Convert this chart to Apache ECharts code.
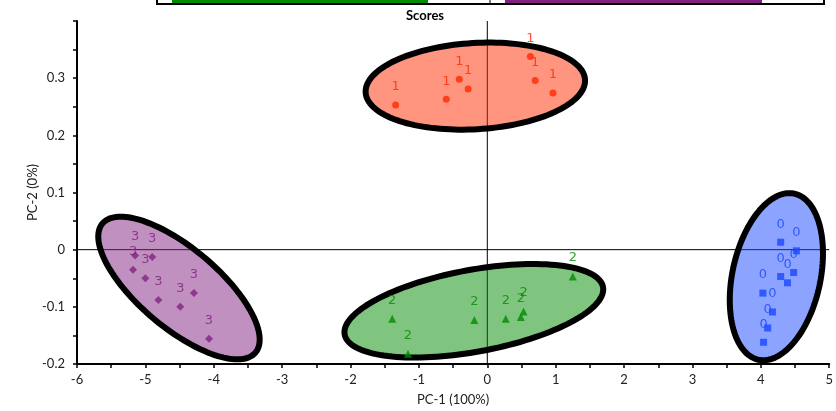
<!DOCTYPE html>
<html>
<head>
<meta charset="utf-8">
<script src="https://cdn.jsdelivr.net/npm/echarts@6/dist/echarts.min.js"></script>
<style>
  html, body { margin: 0; padding: 0; background: #fff; }
  #chart { width: 836px; height: 411px; }
</style>
</head>
<body>
<div id="chart"></div>
<script>
// scores per group (PC-1, PC-2)
var group0X = [4.29, 4.52, 4.48, 4.29, 4.39, 4.03, 4.17, 4.10, 4.04];
var group0Y = [0.013, -0.002, -0.040, -0.047, -0.058, -0.076, -0.109, -0.137, -0.162];
var group1X = [-1.34, -0.60, -0.41, -0.28, 0.63, 0.70, 0.96];
var group1Y = [0.253, 0.263, 0.298, 0.281, 0.338, 0.296, 0.274];
var group2X = [-1.39, -1.16, -0.19, 0.27, 0.49, 0.53, 1.25];
var group2Y = [-0.121, -0.182, -0.123, -0.121, -0.118, -0.108, -0.047];
var group3X = [-5.15, -4.90, -5.18, -5.00, -4.81, -4.49, -4.29, -4.07];
var group3Y = [-0.010, -0.013, -0.035, -0.050, -0.088, -0.100, -0.076, -0.156];

var groupNames = ['0', '1', '2', '3'];
var groupColors = ['#1A47FF', '#FF2A00', '#008C00', '#822382'];
var groupSymbols = ['rect', 'circle', 'triangle', 'diamond'];
var groupSizes = [7, 7, 8, 8];

// group ellipses: centre and two semi-axis vectors, in data units
var ellipseCX = [4.227, -0.175, -0.197, -4.509];
var ellipseCY = [-0.0473, 0.2861, -0.1069, -0.0671];
var ellipseUX = [0.260, 1.604, 1.889, 1.118];
var ellipseUY = [0.1453, 0.0113, 0.0416, -0.1130];
var ellipseVX = [0.630, 0.0376, 0.1097, -0.378];
var ellipseVY = [-0.0159, -0.0753, -0.0704, -0.0529];

var xMin = -6, xMax = 5, xStep = 1;
var yMin = -0.2, yMax = 0.4, yStep = 0.1;

var groupsX = [group0X, group1X, group2X, group3X];
var groupsY = [group0Y, group1Y, group2Y, group3Y];

var myChart = echarts.init(document.getElementById('chart'));

function renderEllipse(params, api) {
    var i = params.dataIndex;
    var pts = [];
    for (var k = 0; k < 144; k++) {
        var t = k / 144 * Math.PI * 2;
        var c = Math.cos(t), s = Math.sin(t);
        pts.push(api.coord([
            ellipseCX[i] + c * ellipseUX[i] + s * ellipseVX[i],
            ellipseCY[i] + c * ellipseUY[i] + s * ellipseVY[i]
        ]));
    }
    return {
        type: 'polygon',
        shape: { points: pts },
        style: {
            fill: echarts.color.modifyAlpha(groupColors[i], 0.5),
            stroke: '#000',
            lineWidth: 6
        }
    };
}

function renderZeroLines(params, api) {
    var a = api.coord([xMin, 0]), b = api.coord([xMax, 0]);
    var c = api.coord([0, yMin]), d = api.coord([0, yMax]);
    return {
        type: 'group',
        children: [
            { type: 'line', shape: { x1: a[0], y1: a[1], x2: b[0], y2: b[1] }, style: { stroke: '#000', lineWidth: 1 } },
            { type: 'line', shape: { x1: c[0], y1: c[1], x2: d[0], y2: d[1] }, style: { stroke: '#000', lineWidth: 1 } }
        ]
    };
}

var series = [{
    type: 'custom',
    name: 'zero',
    z: 1,
    silent: true,
    renderItem: renderZeroLines,
    data: [[0, 0]]
}, {
    type: 'custom',
    name: 'ellipses',
    z: 2,
    silent: true,
    renderItem: renderEllipse,
    encode: { x: 0, y: 1 },
    data: ellipseCX.map(function (x, i) { return [x, ellipseCY[i]]; })
}];

for (var g = 0; g < groupNames.length; g++) {
    series.push({
        type: 'scatter',
        name: groupNames[g],
        z: 3,
        symbol: groupSymbols[g],
        symbolSize: groupSizes[g],
        itemStyle: { color: groupColors[g] },
        label: {
            show: true,
            position: 'top',
            distance: 8,
            formatter: '{a}',
            color: groupColors[g],
            fontFamily: 'DejaVu Sans',
            fontSize: 13
        },
        data: groupsX[g].map(function (x, i) { return [x, groupsY[g][i]]; })
    });
}

var axisFont = { fontFamily: 'Lato', fontSize: 13, color: '#222' };

var option = {
    animation: false,
    title: {
        text: 'Scores',
        left: 401,
        top: 4,
        textStyle: { fontFamily: 'Lato', fontSize: 13, fontWeight: 'bold', color: '#000' }
    },
    grid: { left: 77, right: 3, top: 21, bottom: 42 },
    xAxis: {
        type: 'value',
        min: xMin, max: xMax, interval: xStep,
        name: 'PC-1 (100%)',
        nameLocation: 'middle',
        nameGap: 29,
        nameMoveOverlap: false,
        nameTextStyle: axisFont,
        axisLine: { show: true, onZero: false, lineStyle: { color: '#000', width: 2 } },
        axisTick: { show: true, length: 4, lineStyle: { color: '#000', width: 1.5 } },
        minorTick: { show: true, splitNumber: 2, length: 4, lineStyle: { color: '#000', width: 1.5 } },
        axisLabel: Object.assign({ margin: 9 }, axisFont),
        splitLine: { show: false }
    },
    yAxis: {
        type: 'value',
        min: yMin, max: yMax, interval: yStep,
        name: 'PC-2 (0%)',
        nameLocation: 'middle',
        nameGap: 38,
        nameMoveOverlap: false,
        nameTextStyle: axisFont,
        axisLine: { show: true, onZero: false, lineStyle: { color: '#000', width: 2 } },
        axisTick: { show: true, length: 4, lineStyle: { color: '#000', width: 1.5 } },
        minorTick: { show: true, splitNumber: 2, length: 4, lineStyle: { color: '#000', width: 1.5 } },
        axisLabel: Object.assign({
            margin: 12,
            formatter: function (v) {
                if (Math.abs(v - yMax) < 1e-9) return '';
                return String(+v.toFixed(1));
            }
        }, axisFont),
        splitLine: { show: false }
    },
    // bottom edge of the legend box, cut off by the frame
    graphic: [
        { type: 'rect', shape: { x: 157, y: -10, width: 667, height: 14 }, style: { fill: 'none', stroke: '#000', lineWidth: 2 } },
        { type: 'line', shape: { x1: 490, y1: 0, x2: 490, y2: 4 }, style: { stroke: '#000', lineWidth: 1 } },
        { type: 'rect', shape: { x: 172, y: 0, width: 256, height: 3 }, style: { fill: '#008C00' } },
        { type: 'rect', shape: { x: 505, y: 0, width: 257, height: 3 }, style: { fill: '#822382' } }
    ],
    series: series
};

myChart.setOption(option);
</script>
</body>
</html>
